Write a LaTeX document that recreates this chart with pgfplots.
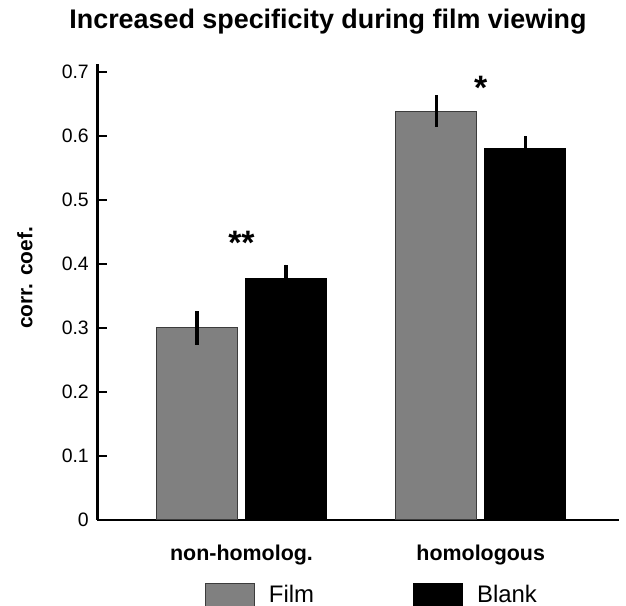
\documentclass[border=0pt]{standalone}
\usepackage{fontspec}
\setmainfont{Liberation Sans}
\usepackage{pgfplots}
\pgfplotsset{compat=1.18}
\definecolor{filmgray}{RGB}{128,128,128}
\definecolor{edgegray}{RGB}{60,60,60}
\begin{document}
\begin{tikzpicture}[x=1bp,y=1bp]
\useasboundingbox (0,0) rectangle (626,606);
\clip (0,0) rectangle (626,606);
\begin{axis}[
  at={(97.3bp,86bp)}, anchor=south west,
  scale only axis, width=521.7bp, height=456bp,
  xmin=-0.6028, xmax=1.5782, ymin=0, ymax=0.7125,
  ybar=8.4bp, bar width=80.6bp,
  axis lines*=left,
  axis line style={-, line width=2.5bp, black},
  xtick={0,1},
  xticklabels={non-homolog., homologous},
  x tick style={draw=none},
  xticklabel style={font=\bfseries\fontsize{21.5}{21.5}\selectfont, yshift=-21bp},
  ytick={0,0.1,0.2,0.3,0.4,0.5,0.6,0.7},
  tick align=inside,
  major tick length=10bp,
  y tick style={line width=2.5bp, black},
  /pgf/number format/assume math mode=true,
  yticklabel style={font=\fontsize{19.5}{19.5}\selectfont, xshift=-5bp},
  ylabel={corr. coef.},
  ylabel style={at={(axis description cs:-0.1386,0.531)}, anchor=center,
    font=\bfseries\fontsize{21}{21}\selectfont},
  title={Increased specificity during film viewing},
  every axis title/.style={at={(axis description cs:0.4422,1.0768)}, anchor=base,
    font=\bfseries\fontsize{27}{27}\selectfont},
  legend style={at={(axis description cs:0.2064,-0.138)}, anchor=north west,
    draw=none, fill=none, inner sep=0pt, outer sep=0pt,
    nodes={inner sep=0pt, anchor=base west},
    font=\fontsize{24}{24}\selectfont,
    /tikz/every odd column/.append style={column sep=14bp},
    /tikz/every even column/.append style={column sep=99bp}},
  legend columns=2,
]
% Film condition
\addplot[fill=filmgray, draw=edgegray, line width=1bp,
  legend image code/.code={\draw[fill=filmgray, draw=edgegray, line width=1bp]
    (0bp,-10bp) rectangle (49bp,19bp);},
  error bars/.cd, y dir=both, y explicit, error mark=none,
  error bar style={line width=3.3bp, black, solid}]
  coordinates {(0,0.300) +- (0,0.026) (1,0.639) +- (0,0.0245)};
\addlegendentry{Film}
% Blank condition
\addplot[fill=black, draw=black, line width=1bp,
  legend image code/.code={\draw[fill=black, draw=black, line width=1bp]
    (0bp,-10bp) rectangle (49bp,19bp);},
  error bars/.cd, y dir=both, y explicit, error mark=none,
  error bar style={line width=3.3bp, black, solid}]
  coordinates {(0,0.377) +- (0,0.022) (1,0.580) +- (0,0.020)};
\addlegendentry{Blank}
% significance markers
\node[anchor=north, inner sep=0pt, font=\bfseries\fontsize{34}{34}\selectfont]
  at (axis cs:0,0.451) {**};
\node[anchor=north, inner sep=0pt, font=\bfseries\fontsize{34}{34}\selectfont]
  at (axis cs:1,0.6933) {*};
\end{axis}
\end{tikzpicture}
\end{document}
